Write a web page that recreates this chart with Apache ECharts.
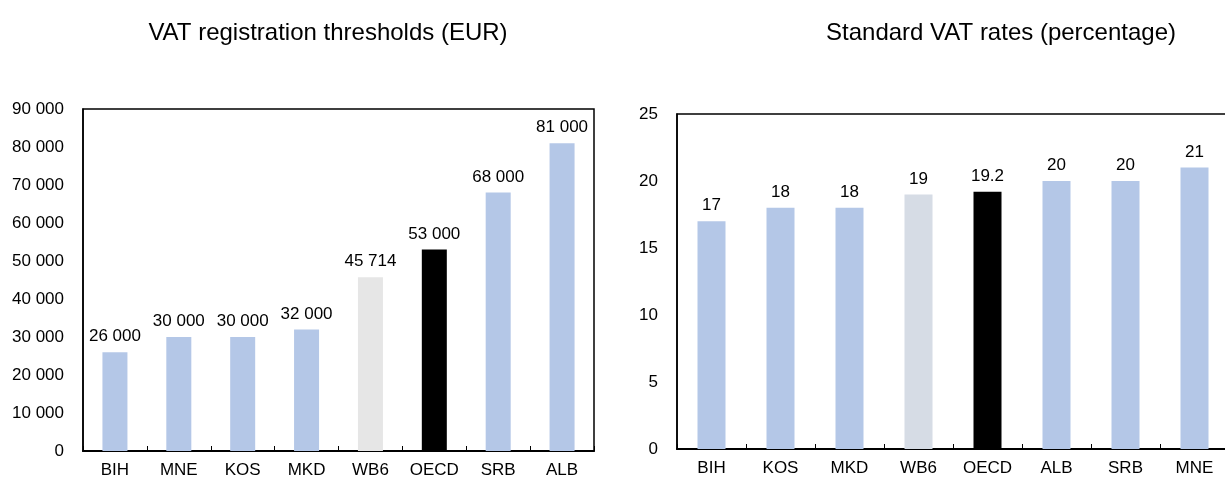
<!DOCTYPE html>
<html>
<head>
<meta charset="utf-8">
<script src="https://cdn.jsdelivr.net/npm/echarts@6/dist/echarts.min.js"></script>
<style>
  html, body { margin: 0; padding: 0; background: #fff; }
  #chart { width: 1225px; height: 481px; }
</style>
</head>
<body>
<div id="chart"></div>
<script>
// VAT registration thresholds (EUR)
const thresholdCats = ['BIH', 'MNE', 'KOS', 'MKD', 'WB6', 'OECD', 'SRB', 'ALB']
const thresholdVals = [26000, 30000, 30000, 32000, 45714, 53000, 68000, 81000]

// Standard VAT rates (percentage)
const rateCats = ['BIH', 'KOS', 'MKD', 'WB6', 'OECD', 'ALB', 'SRB', 'MNE']
const rateVals = [17, 18, 18, 19, 19.2, 20, 20, 21]

const BLUE = '#B4C7E7'
const font = '"Liberation Sans", Arial, sans-serif'

function colorFor(cat, wb6Color) {
  if (cat === 'OECD') return '#000000'
  if (cat === 'WB6') return wb6Color
  return BLUE
}

function fmtSpace(v) {
  return String(v).replace(/\B(?=(\d{3})+(?!\d))/g, ' ')
}

const myChart = echarts.init(document.getElementById('chart'))

const xAxisBase = {
  type: 'category',
  axisLine: { lineStyle: { color: '#000', width: 2 } },
  axisTick: { show: true, inside: true, length: 5, lineStyle: { color: '#000', width: 1 } },
  axisLabel: { color: '#000', fontSize: 17, fontFamily: font, margin: 11, interval: 0 }
}
const yAxisBase = {
  type: 'value',
  min: 0,
  axisLine: { show: true, lineStyle: { color: '#000', width: 1.5 } },
  axisTick: { show: false },
  splitLine: { show: false },
  axisLabel: { color: '#000', fontSize: 17, fontFamily: font, margin: 19 }
}

const options = {
  backgroundColor: '#fff',
  animation: false,
  title: [
    {
      text: 'VAT registration thresholds (EUR)',
      left: 323, top: 16, textAlign: 'center',
      textStyle: { color: '#000', fontSize: 24, fontWeight: 'normal', fontFamily: font }
    },
    {
      text: 'Standard VAT rates (percentage)',
      left: 996, top: 16, textAlign: 'center',
      textStyle: { color: '#000', fontSize: 24, fontWeight: 'normal', fontFamily: font }
    }
  ],
  grid: [
    { left: 83, top: 109, width: 511, height: 342, show: true, borderColor: '#000', borderWidth: 1.5, outerBoundsMode: 'none' },
    { left: 677, top: 114, width: 552, height: 335, show: true, borderColor: '#000', borderWidth: 1.5, outerBoundsMode: 'none' }
  ],
  xAxis: [
    Object.assign({}, xAxisBase, { gridIndex: 0, data: thresholdCats }),
    Object.assign({}, xAxisBase, { gridIndex: 1, data: rateCats })
  ],
  yAxis: [
    Object.assign({}, yAxisBase, {
      gridIndex: 0, max: 90000, interval: 10000,
      axisLabel: Object.assign({}, yAxisBase.axisLabel, { formatter: fmtSpace })
    }),
    Object.assign({}, yAxisBase, { gridIndex: 1, max: 25, interval: 5 })
  ],
  series: [
    {
      type: 'bar',
      xAxisIndex: 0,
      yAxisIndex: 0,
      barWidth: 25,
      data: thresholdVals.map((v, i) => ({
        value: v,
        itemStyle: { color: colorFor(thresholdCats[i], '#E6E6E6') }
      })),
      label: {
        show: true, position: 'top', distance: 7,
        color: '#000', fontSize: 17, fontFamily: font,
        formatter: p => fmtSpace(p.value)
      }
    },
    {
      type: 'bar',
      xAxisIndex: 1,
      yAxisIndex: 1,
      barWidth: 28,
      data: rateVals.map((v, i) => ({
        value: v,
        itemStyle: { color: colorFor(rateCats[i], '#D6DCE5') }
      })),
      label: {
        show: true, position: 'top', distance: 7,
        color: '#000', fontSize: 17, fontFamily: font
      }
    }
  ]
}
myChart.setOption(options)
</script>
</body>
</html>
